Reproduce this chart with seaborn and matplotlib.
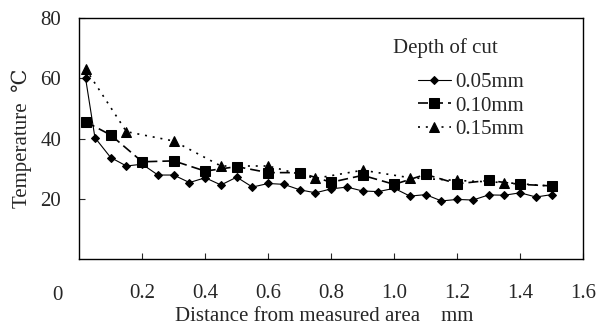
import numpy as np
import pandas as pd
import seaborn as sns
import matplotlib.pyplot as plt

sns.set_style("ticks")
plt.rcParams["font.family"] = ["Liberation Serif", "DejaVu Serif"]

# 数据
x_005 = [0.02, 0.05, 0.10, 0.15, 0.20, 0.25, 0.30, 0.35, 0.40, 0.45, 0.50,
         0.55, 0.60, 0.65, 0.70, 0.75, 0.80, 0.85, 0.90, 0.95, 1.00,
         1.05, 1.10, 1.15, 1.20, 1.25, 1.30, 1.35, 1.40, 1.45, 1.50]
t_005 = [60.2, 40.3, 33.7, 30.9, 31.5, 27.9, 27.9, 25.4, 27.0, 24.6, 27.2,
         23.9, 25.1, 24.8, 23.0, 22.0, 23.3, 23.9, 22.6, 22.4, 23.5,
         20.9, 21.4, 19.3, 19.8, 19.6, 21.3, 21.2, 22.0, 20.6, 21.4]

x_010 = [0.02, 0.10, 0.20, 0.30, 0.40, 0.50, 0.60, 0.70, 0.80, 0.90,
         1.00, 1.10, 1.20, 1.30, 1.40, 1.50]
t_010 = [45.6, 41.2, 32.3, 32.6, 29.2, 30.7, 28.7, 28.7, 25.5, 27.8,
         24.8, 28.1, 25.0, 26.1, 24.8, 24.3]

x_015 = [0.02, 0.15, 0.30, 0.45, 0.60, 0.75, 0.90, 1.05, 1.20, 1.35, 1.50]
t_015 = [63.2, 42.3, 39.2, 30.9, 30.9, 26.8, 29.5, 27.0, 26.1, 25.4, 24.2]

labels = ["0.05mm", "0.10mm", "0.15mm"]
xtick_vals = [0.2, 0.4, 0.6, 0.8, 1.0, 1.2, 1.4, 1.6]
xtick_labels = ["0.2", "0.4", "0.6", "0.8", "1.0", "1.2", "1.4", "1.6"]
ytick_vals = [20, 40, 60, 80]

fig, ax = plt.subplots(figsize=(6, 3.3), dpi=100)
fig.subplots_adjust(left=0.132, right=0.972, bottom=0.215, top=0.945)

sns.lineplot(x=x_005, y=t_005, ax=ax, color="black", lw=0.8,
             marker="D", markersize=4, markeredgecolor="black",
             label=labels[0])
sns.lineplot(x=x_010, y=t_010, ax=ax, color="black", lw=1.2,
             marker="s", markersize=6.5, markeredgecolor="black",
             label=labels[1])
sns.lineplot(x=x_015, y=t_015, ax=ax, color="black", lw=1.2,
             marker="^", markersize=6.5, markeredgecolor="black",
             label=labels[2])
ax.lines[1].set_dashes([6, 3])
ax.lines[2].set_dashes([1.2, 3.5])

ax.set_xlim(0, 1.6)
ax.set_ylim(0, 80)
ax.set_xticks(xtick_vals)
ax.set_xticklabels(xtick_labels)
ax.set_yticks(ytick_vals)
ax.tick_params(axis="both", direction="in", labelsize=15, length=4)
ax.tick_params(axis="x", pad=18)
ax.tick_params(axis="y", pad=13)
for s in ax.spines.values():
    s.set_linewidth(1.0)
    s.set_color("black")

ax.set_xlabel("Distance from measured area    mm", fontsize=15, labelpad=2)
ax.xaxis.set_label_coords(0.487, -0.2)
ax.set_ylabel("Temperature  \u2103", fontsize=15, labelpad=6)
fig.text(0.095, 0.105, "0", fontsize=15, ha="center", va="center")

# 图例标题单独放置
ax.text(0.623, 0.875, "Depth of cut", transform=ax.transAxes, fontsize=15,
        ha="left", va="center")
ax.legend(loc="upper left", bbox_to_anchor=(0.655, 0.81), frameon=False,
          fontsize=15, handlelength=1.6, handletextpad=0.2,
          labelspacing=0.2, borderaxespad=0)

fig.savefig("out.png", dpi=100)
